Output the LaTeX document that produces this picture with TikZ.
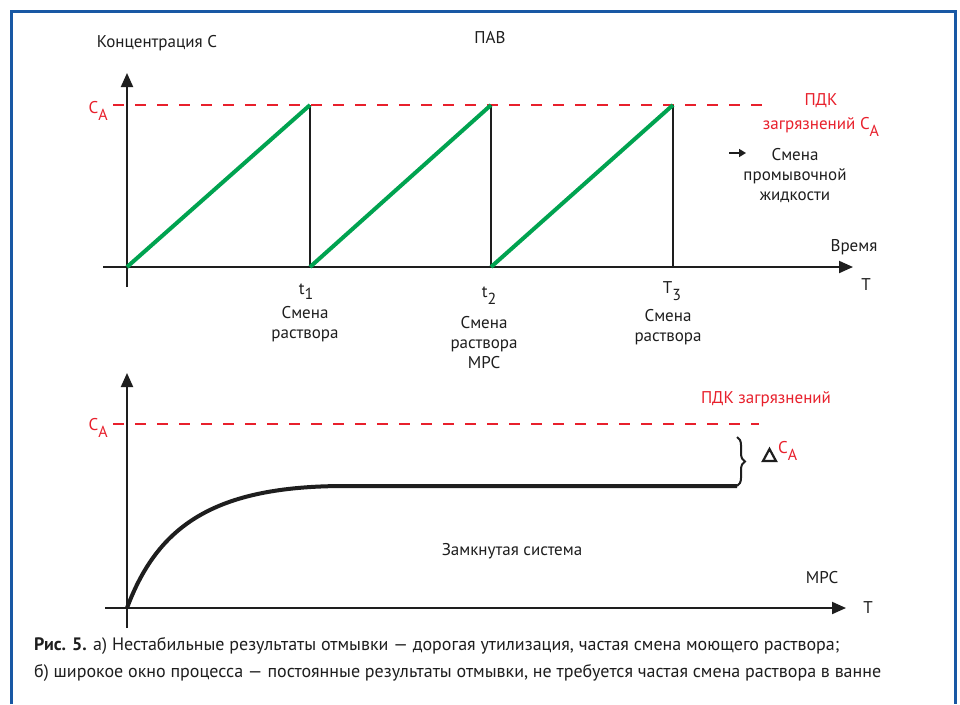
\documentclass[tikz,border=0pt]{standalone}
\usepackage{fontspec}
\setmainfont{PT Sans}
\usetikzlibrary{arrows.meta,decorations.pathreplacing}
\definecolor{frameblue}{RGB}{24,88,164}
\definecolor{pdkred}{RGB}{232,32,44}
\definecolor{rampgreen}{RGB}{0,163,80}
\definecolor{ink}{RGB}{30,30,30}
\newcommand\lowsub[2][7pt]{\raisebox{-#1}{\fontsize{16}{16}\selectfont #2}}
\begin{document}
\begin{tikzpicture}[x=1pt,y=-1pt,
  axisline/.style={line width=2pt, draw=ink},
  axisarrow/.style={axisline,-{Triangle[length=14pt,width=12pt]}},
  limitline/.style={draw=pdkred,line width=2pt,dash pattern=on 11pt off 11pt},
  rampline/.style={draw=rampgreen,line width=4pt},
  dropline/.style={draw=ink,line width=1.6pt},
  curveline/.style={draw=ink,line width=4pt},
  lbl/.style={font=\fontsize{17}{20}\selectfont, text=ink, inner sep=0pt, align=center},
  rlbl/.style={lbl, text=pdkred},
  caption/.style={font=\fontsize{18}{27}\selectfont, text=ink, inner sep=0pt, align=left, anchor=north west},
]
\useasboundingbox (0,0) rectangle (960,704);
\fill[white] (0,0) rectangle (960,704);
% frame
\draw[frameblue, line width=3pt] (11,704) -- (11,11) -- (955,11) -- (955,704);

% ---------- top chart ----------
\coordinate (tyb) at (127,287);
\coordinate (tyt) at (127,73);
\coordinate (txl) at (103,267);
\coordinate (txr) at (853,267);
\coordinate (tO) at (127,267);
\coordinate (tcl) at (113,105);
\coordinate (tcr) at (772,105);
\coordinate (p1) at (310,105); \coordinate (b1) at (310,267);
\coordinate (p2) at (491,105); \coordinate (b2) at (491,267);
\coordinate (p3) at (673,105); \coordinate (b3) at (673,267);

\draw[limitline] (tcl) -- (tcr);
\draw[axisarrow] (tyb) -- (tyt);
\draw[axisarrow] (txl) -- (txr);
\draw[dropline] (p1) -- (b1);
\draw[dropline] (p2) -- (b2);
\draw[dropline] (p3) -- (b3);
\draw[rampline] (tO) -- (p1);
\draw[rampline] (b1) -- (p2);
\draw[rampline] (b2) -- (p3);

\node[lbl] (conc) at (157,43) {Концентрация C};
\node[lbl] (pav) at (490,38) {ПАВ};
\node[rlbl, anchor=base east] (ca1) at (108,113) {C\lowsub{A}};
\node[rlbl] (pdk1) at (821,101) {ПДК};
\node[rlbl, anchor=base] (pdk1b) at (821,129) {загрязнений C\lowsub{A}};
\coordinate (sa) at (729,153);
\coordinate (sb) at (746,153);
\draw[draw=ink,line width=1.6pt,-{Triangle[length=7pt,width=8pt]}] (sa) -- (sb);
\node[lbl] (wash) at (795,176) {Смена\\промывочной\\жидкости};
\node[lbl] (time) at (854,247) {Время};
\node[lbl] (tT) at (866,285) {T};

\node[lbl, anchor=base] (t1) at (306,294) {t\lowsub[5pt]{1}};
\node[lbl] (s1) at (305,324) {Смена\\раствора};
\node[lbl, anchor=base] (t2) at (489,297) {t\lowsub{2}};
\node[lbl] (s2) at (484,343) {Смена\\раствора\\МРС};
\node[lbl, anchor=base] (t3) at (672,293) {T\lowsub{3}};
\node[lbl] (s3) at (668,327) {Смена\\раствора};

% ---------- bottom chart ----------
\coordinate (byb) at (127,628);
\coordinate (byt) at (127,373);
\coordinate (bxl) at (105,608);
\coordinate (bxr) at (846,608);
\coordinate (bO) at (127,608);
\coordinate (bcl) at (113,424);
\coordinate (bcr) at (759,424);
\coordinate (pl1) at (345,486);
\coordinate (pl2) at (737,486);
\coordinate (brt) at (737,437);

\draw[limitline] (bcl) -- (bcr);
\draw[axisarrow] (byb) -- (byt);
\draw[axisarrow] (bxl) -- (bxr);
\draw[curveline] (bO) .. controls (158,525) and (215,486) .. (pl1) -- (pl2);
\draw[draw=ink,line width=2pt,decorate,decoration={brace,amplitude=8pt}] (brt) -- (pl2);

\node[rlbl] (pdk2) at (766,399) {ПДК загрязнений};
\node[rlbl, anchor=base east] (ca2) at (108,430) {C\lowsub{A}};
\draw[draw=ink,line width=2.2pt,line join=miter] (763,461) -- (776,461) -- (769.5,449) -- cycle;
\node[rlbl, anchor=base west] (ca3) at (778,453) {C\lowsub{A}};
\node[lbl] (closed) at (512,551) {Замкнутая система};
\node[lbl] (mrs) at (822,578) {МРС};
\node[lbl] (bT) at (868,608) {T};

% ---------- caption ----------
\node[caption] (cap) at (34,637) {\textbf{Рис. 5.} а) Нестабильные результаты отмывки — дорогая утилизация, частая смена моющего раствора;\\
б) широкое окно процесса — постоянные результаты отмывки, не требуется частая смена раствора в ванне};
\end{tikzpicture}
\end{document}
